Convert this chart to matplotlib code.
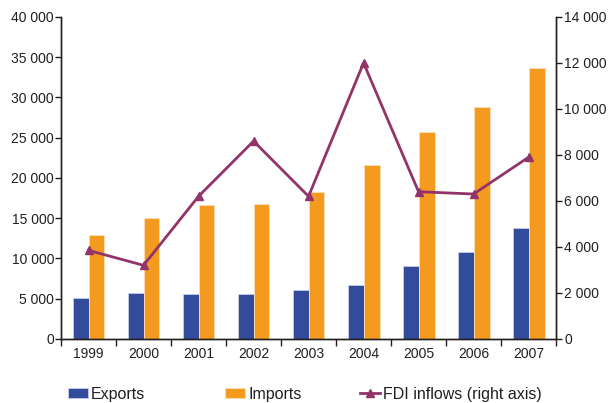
import numpy as np
import matplotlib.pyplot as plt
from matplotlib.ticker import FuncFormatter, MultipleLocator

plt.rcParams['font.family'] = ['Liberation Sans', 'DejaVu Sans']
plt.rcParams['text.color'] = '#231f20'
plt.rcParams['xtick.color'] = '#231f20'
plt.rcParams['ytick.color'] = '#231f20'

# values
years = ['1999', '2000', '2001', '2002', '2003', '2004', '2005', '2006', '2007']
exports = [5100, 5700, 5600, 5600, 6100, 6700, 9100, 10800, 13800]
imports = [12900, 15000, 16600, 16800, 18300, 21600, 25700, 28800, 33700]
fdi = [3850, 3200, 6200, 8600, 6200, 12000, 6400, 6300, 7900]

blue = '#324b9a'
orange = '#f39a1f'
purple = '#93336a'

def spaced(v, pos):
    return f'{int(v):,}'.replace(',', ' ')

fig = plt.figure(figsize=(6.15, 4.03), dpi=100)
ax = fig.add_axes([0.0992, 0.159, 0.805, 0.799])
ax2 = ax.twinx()

x = np.arange(len(years))
w = 0.29
b1 = ax.bar(x - w/2, exports, w, color=blue, edgecolor='#c8cde6', linewidth=0.6, label='Exports', zorder=2)
b2 = ax.bar(x + w/2, imports, w, color=orange, edgecolor='#fbe0b8', linewidth=0.6, label='Imports', zorder=2)
ln, = ax2.plot(x, fdi, color=purple, lw=2, marker='^', ms=6, label='FDI inflows (right axis)', zorder=3)

ax.set_xlim(-0.5, len(years) - 0.5)
ax.set_ylim(0, 40000)
ax2.set_ylim(0, 14000)
ax.yaxis.set_major_locator(MultipleLocator(5000))
ax2.yaxis.set_major_locator(MultipleLocator(2000))
ax.yaxis.set_major_formatter(FuncFormatter(spaced))
ax2.yaxis.set_major_formatter(FuncFormatter(spaced))

# ticks at category boundaries, labels at centres
ax.set_xticks(np.arange(-0.5, len(years)), [''] * (len(years) + 1))
ax.set_xticks(x, years, minor=True)
ax.tick_params(axis='x', which='major', length=5, width=1, direction='out')
ax.tick_params(axis='x', which='minor', length=0, labelsize=10, pad=6)
ax.tick_params(axis='y', length=4, width=1, labelsize=10, pad=1)
ax2.tick_params(axis='y', length=4, width=1, labelsize=10, pad=2)

for a in (ax, ax2):
    a.spines['top'].set_visible(False)
    for s in a.spines.values():
        s.set_linewidth(1)
        s.set_color('#231f20')

# one legend per entry so the gaps match the original
for h, lab, xpos in [(b1, 'Exports', 68), (b2, 'Imports', 225), (ln, 'FDI inflows (right axis)', 360)]:
    lg = fig.legend([h], [lab], loc='center left', bbox_to_anchor=(xpos / 615, 1 - 394 / 403),
                    frameon=False, fontsize=11.5, handlelength=1.25, handletextpad=0.2,
                    handleheight=0.6, borderpad=0, borderaxespad=0)

fig.savefig('out.png', dpi=100)
